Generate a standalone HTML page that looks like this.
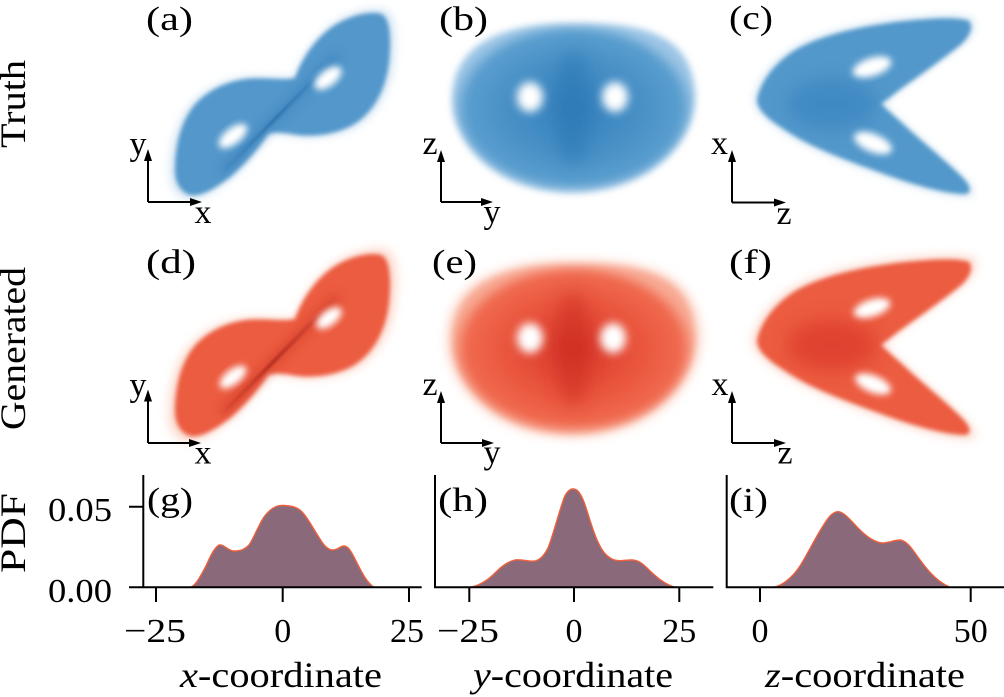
<!DOCTYPE html>
<html><head><meta charset="utf-8">
<style>
html,body{margin:0;padding:0;background:#fff;}
svg{display:block}
text{font-family:"Liberation Serif",serif;fill:#000}
</style></head>
<body>
<svg width="1004" height="697" viewBox="0 0 1004 697" xmlns="http://www.w3.org/2000/svg">
<defs>
 <filter id="f1" x="-30%" y="-30%" width="160%" height="160%"><feGaussianBlur stdDeviation="1.2"/></filter>
 <filter id="f2" x="-30%" y="-30%" width="160%" height="160%"><feGaussianBlur stdDeviation="2.2"/></filter>
 <filter id="f3" x="-30%" y="-30%" width="160%" height="160%"><feGaussianBlur stdDeviation="3.5"/></filter>
 <filter id="f4" x="-40%" y="-40%" width="180%" height="180%"><feGaussianBlur stdDeviation="4.5"/></filter>
 <filter id="f5" x="-50%" y="-50%" width="200%" height="200%"><feGaussianBlur stdDeviation="5"/></filter>
 <filter id="f9" x="-60%" y="-60%" width="220%" height="220%"><feGaussianBlur stdDeviation="9"/></filter>
 <radialGradient id="rgB" cx="50%" cy="50%" r="50%">
  <stop offset="0%" stop-color="#3580bd"/>
  <stop offset="55%" stop-color="#4890c6"/>
  <stop offset="88%" stop-color="#5a9ecf"/>
  <stop offset="100%" stop-color="#9cc5e5"/>
 </radialGradient>
 <radialGradient id="rgR" cx="50%" cy="50%" r="50%">
  <stop offset="0%" stop-color="#d8382a"/>
  <stop offset="55%" stop-color="#e9553d"/>
  <stop offset="88%" stop-color="#f06a4f"/>
  <stop offset="100%" stop-color="#f8a993"/>
 </radialGradient>
 <linearGradient id="lgAb" gradientUnits="userSpaceOnUse" x1="220" y1="175" x2="338" y2="55">
  <stop offset="0" stop-color="#1d5f9c" stop-opacity="0"/>
  <stop offset="0.45" stop-color="#1d5f9c" stop-opacity="0.8"/>
  <stop offset="1" stop-color="#1d5f9c" stop-opacity="0"/>
 </linearGradient>
 <linearGradient id="lgAr" gradientUnits="userSpaceOnUse" x1="220" y1="175" x2="338" y2="55">
  <stop offset="0" stop-color="#8b1414" stop-opacity="0"/>
  <stop offset="0.45" stop-color="#8b1414" stop-opacity="0.8"/>
  <stop offset="1" stop-color="#8b1414" stop-opacity="0"/>
 </linearGradient>
 <path id="pA" d="M190,195 C181,192 175,183 175,170 C175,148 180,124 193,107 C205,92 224,82 246,79 C266,77 283,81 295,78 C301,60 314,40 332,27 C350,15 370,11 381,14 C391,18 391,42 389,62 C386,88 375,110 356,123 C339,134 315,137 298,135 C285,133 275,131 268,134 C258,149 245,164 230,177 C215,189 200,197 190,195 Z"/>
 <path id="pB" d="M573,23 C650,22 690,38 695,90 C700,140 650,192 573,193 C498,193 452,145 452,100 C452,45 500,23 573,23 Z"/>
 <path id="pC" d="M757,100 C760,82 775,62 797,49 C822,35 860,26 905,21 C935,18 958,17 969,21 C974,28 969,38 959,46 C939,62 914,79 894,94 C888,99 883,102 881,104 C885,108 893,115 902,123 C921,141 945,160 962,177 C971,186 973,194 963,194 C942,193 911,184 879,172 C846,160 813,148 790,133 C771,121 758,112 757,100 Z"/>
</defs>

<!-- ===== Row 1 (blue) ===== -->
<g>
 <use href="#pA" fill="#cfe2f2" filter="url(#f4)" transform="translate(282,104) scale(1.04) translate(-282,-104)"/>
 <use href="#pA" fill="#5297cb" filter="url(#f2)"/>
 <line x1="222" y1="172" x2="338" y2="55" stroke="#2f77b4" stroke-width="12" opacity=".35" filter="url(#f5)"/>
 <line x1="220" y1="175" x2="338" y2="55" stroke="url(#lgAb)" stroke-width="2.2" filter="url(#f1)"/>
 <ellipse cx="233" cy="136" rx="17" ry="8" fill="#fff" transform="rotate(-38 233 136)" filter="url(#f3)"/>
 <ellipse cx="328" cy="78" rx="16" ry="8" fill="#fff" transform="rotate(-38 328 78)" filter="url(#f3)"/>
</g>
<g>
 <use href="#pB" fill="url(#rgB)" filter="url(#f3)"/>
 <ellipse cx="573" cy="108" rx="18" ry="58" fill="#2b77b4" opacity=".6" filter="url(#f9)"/>
 <ellipse cx="530" cy="97" rx="13" ry="15" fill="#fff" filter="url(#f4)"/>
 <ellipse cx="615" cy="97" rx="13" ry="15" fill="#fff" filter="url(#f4)"/>
</g>
<g>
 <use href="#pC" fill="#d3e5f3" filter="url(#f4)" transform="translate(860,105) scale(1.03) translate(-860,-105)"/>
 <use href="#pC" fill="#5398cb" filter="url(#f2)"/>
 <ellipse cx="832" cy="104" rx="45" ry="26" fill="#2f7dbb" opacity=".5" filter="url(#f9)"/>
 <ellipse cx="872" cy="67" rx="20" ry="9" fill="#fff" transform="rotate(-18 872 67)" filter="url(#f3)"/>
 <ellipse cx="873" cy="143" rx="20" ry="9" fill="#fff" transform="rotate(22 873 143)" filter="url(#f3)"/>
</g>

<!-- ===== Row 2 (red) ===== -->
<g transform="translate(0,241)">
 <use href="#pA" fill="#fcd9cd" filter="url(#f4)" transform="translate(282,104) scale(1.06) translate(-282,-104)"/>
 <use href="#pA" fill="#ec5b41" filter="url(#f2)"/>
 <line x1="222" y1="172" x2="338" y2="55" stroke="#c42a1e" stroke-width="12" opacity=".35" filter="url(#f5)"/>
 <line x1="220" y1="175" x2="338" y2="55" stroke="url(#lgAr)" stroke-width="2.2" filter="url(#f1)"/>
 <ellipse cx="233" cy="136" rx="16" ry="7.5" fill="#fff" transform="rotate(-38 233 136)" filter="url(#f3)"/>
 <ellipse cx="329" cy="77" rx="15" ry="7.5" fill="#fff" transform="rotate(-38 329 77)" filter="url(#f3)"/>
</g>
<g transform="translate(0,241)">
 <use href="#pB" fill="#fcdcd0" filter="url(#f4)" transform="translate(573,108) scale(1.05) translate(-573,-108)"/>
 <use href="#pB" fill="url(#rgR)" filter="url(#f3)"/>
 <ellipse cx="573" cy="108" rx="18" ry="58" fill="#c8261c" opacity=".5" filter="url(#f9)"/>
 <ellipse cx="530" cy="97" rx="13" ry="15" fill="#fff" filter="url(#f4)"/>
 <ellipse cx="613" cy="97" rx="13" ry="15" fill="#fff" filter="url(#f4)"/>
</g>
<g transform="translate(0,241)">
 <use href="#pC" fill="#fcdcd0" filter="url(#f4)" transform="translate(860,105) scale(1.05) translate(-860,-105)"/>
 <use href="#pC" fill="#ec5b41" filter="url(#f2)"/>
 <ellipse cx="832" cy="104" rx="45" ry="26" fill="#d42c20" opacity=".5" filter="url(#f9)"/>
 <ellipse cx="872" cy="67" rx="19" ry="8.5" fill="#fff" transform="rotate(-18 872 67)" filter="url(#f3)"/>
 <ellipse cx="873" cy="143" rx="19" ry="8.5" fill="#fff" transform="rotate(22 873 143)" filter="url(#f3)"/>
</g>

<!-- ===== Arrows ===== -->
<g stroke="#000" stroke-width="2" fill="none">
 <path d="M148,202 V158 M148,202 H192"/>
 <path d="M441,202 V159 M441,202 H483"/>
 <path d="M732,202.5 V159 M732,202.5 H776"/>
 <path d="M148,443 V398 M148,443 H191"/>
 <path d="M441,443 V400 M441,443 H484"/>
 <path d="M732,443 V400 M732,443 H776"/>
</g>
<g fill="#000">
 <polygon points="148,149 144,161 152,161"/><polygon points="202,202 190,198 190,206"/>
 <polygon points="441,150 437,162 445,162"/><polygon points="493,202 481,198 481,206"/>
 <polygon points="732,150 728,162 736,162"/><polygon points="786,202.5 774,198.5 774,206.5"/>
 <polygon points="148,389.5 144,401.5 152,401.5"/><polygon points="201,443 189,439 189,447"/>
 <polygon points="441,391 437,403 445,403"/><polygon points="494,443 482,439 482,447"/>
 <polygon points="732,391 728,403 736,403"/><polygon points="786,443 774,439 774,447"/>
</g>
<g font-size="34" text-anchor="middle">
 <text x="138" y="155">y</text><text x="203" y="223">x</text>
 <text x="430" y="154">z</text><text x="492" y="223">y</text>
 <text x="719.5" y="154">x</text><text x="784" y="224">z</text>
 <text x="138" y="396">y</text><text x="203" y="463.5">x</text>
 <text x="430" y="395">z</text><text x="492" y="463.5">y</text>
 <text x="720" y="395">x</text><text x="785" y="463.5">z</text>
</g>

<!-- ===== Panel labels ===== -->
<g font-size="34">
 <text x="146" y="30" textLength="47" lengthAdjust="spacingAndGlyphs">(a)</text>
 <text x="439" y="30" textLength="49" lengthAdjust="spacingAndGlyphs">(b)</text>
 <text x="729" y="29" textLength="44" lengthAdjust="spacingAndGlyphs">(c)</text>
 <text x="146" y="273" textLength="50" lengthAdjust="spacingAndGlyphs">(d)</text>
 <text x="432" y="273" textLength="45" lengthAdjust="spacingAndGlyphs">(e)</text>
 <text x="729" y="273" textLength="43" lengthAdjust="spacingAndGlyphs">(f)</text>
</g>

<!-- ===== Row labels ===== -->
<g font-size="36" text-anchor="middle">
 <text transform="translate(25,104) rotate(-90)" textLength="88" lengthAdjust="spacingAndGlyphs">Truth</text>
 <text transform="translate(25,348.5) rotate(-90)" textLength="163" lengthAdjust="spacingAndGlyphs">Generated</text>
 <text transform="translate(25,533) rotate(-90)" textLength="80" lengthAdjust="spacingAndGlyphs">PDF</text>
</g>

<!-- ===== PDFs ===== -->
<g fill="#8a697a" stroke="#f0603c" stroke-width="1.4" stroke-linejoin="round">
 <path d="M190,587.3 C196,586 201,575 206,566 C210,557 214,548 219,545 C224,544 228,551 234,551 C240,551 244,550 249,545 C254,538 258,526 264,517 C270,509 276,505 284,505.5 C292,506 298,507 303,513 C309,520 314,530 320,539 C324,546 328,550 333,550 C338,550 340,546 344,546 C348,546 351,551 355,559 C360,569 366,582 374,587.3 Z"/>
 <path d="M470,587.3 C478,586 487,581 495,573 C501,567 507,562 515,560 C522,559 528,562 535,561 C540,560 544,556 548,548 C553,536 558,515 564,498 C567,491 570,489 573,489 C577,489 580,492 584,502 C589,516 593,532 598,542 C602,551 606,556 612,559 C618,562 624,560 631,560 C637,560 641,562 647,568 C655,576 664,584 675,587.3 Z"/>
 <path d="M773,587.3 C782,586 792,578 800,566 C810,550 820,528 830,516 C834,512 837,511 840,512 C846,514 852,522 860,530 C866,536 874,542 882,543 C889,543 894,540 900,540 C906,541 910,546 915,553 C925,567 935,581 950,587.3 Z"/>
</g>

<!-- ===== Axes ===== -->
<g stroke="#000" stroke-width="2" fill="none">
 <path d="M143.3,475 V588.3 M129,587.3 H421.7 M129,506.7 H143.3"/>
 <path d="M156,587.3 V602 M282.7,587.3 V602 M409,587.3 V602"/>
 <path d="M435,475 V588.3 M435,587.3 H713.3"/>
 <path d="M469.3,587.3 V602 M574,587.3 V602 M679.3,587.3 V602"/>
 <path d="M726.7,475 V588.3 M726.7,587.3 H1004"/>
 <path d="M760,587.3 V602 M970.7,587.3 V602"/>
</g>

<g font-size="34">
 <text x="147" y="511" textLength="46" lengthAdjust="spacingAndGlyphs">(g)</text>
 <text x="438" y="511" textLength="50" lengthAdjust="spacingAndGlyphs">(h)</text>
 <text x="729" y="511" textLength="39" lengthAdjust="spacingAndGlyphs">(i)</text>
</g>

<g font-size="34" text-anchor="end">
 <text x="112" y="521" textLength="64" lengthAdjust="spacingAndGlyphs">0.05</text>
 <text x="112" y="602" textLength="64" lengthAdjust="spacingAndGlyphs">0.00</text>
</g>
<g font-size="34" text-anchor="middle">
 <text x="155" y="642" textLength="62" lengthAdjust="spacingAndGlyphs">−25</text>
 <text x="282.7" y="642">0</text>
 <text x="407" y="642">25</text>
 <text x="468" y="642" textLength="62" lengthAdjust="spacingAndGlyphs">−25</text>
 <text x="574" y="642">0</text>
 <text x="679.3" y="642">25</text>
 <text x="760" y="642">0</text>
 <text x="970.7" y="642">50</text>
</g>

<g font-size="36" text-anchor="middle">
 <text x="281" y="687" textLength="202" lengthAdjust="spacingAndGlyphs"><tspan font-style="italic">x</tspan>-coordinate</text>
 <text x="573" y="687" textLength="200" lengthAdjust="spacingAndGlyphs"><tspan font-style="italic">y</tspan>-coordinate</text>
 <text x="865" y="687" textLength="200" lengthAdjust="spacingAndGlyphs"><tspan font-style="italic">z</tspan>-coordinate</text>
</g>
</svg>
</body></html>
